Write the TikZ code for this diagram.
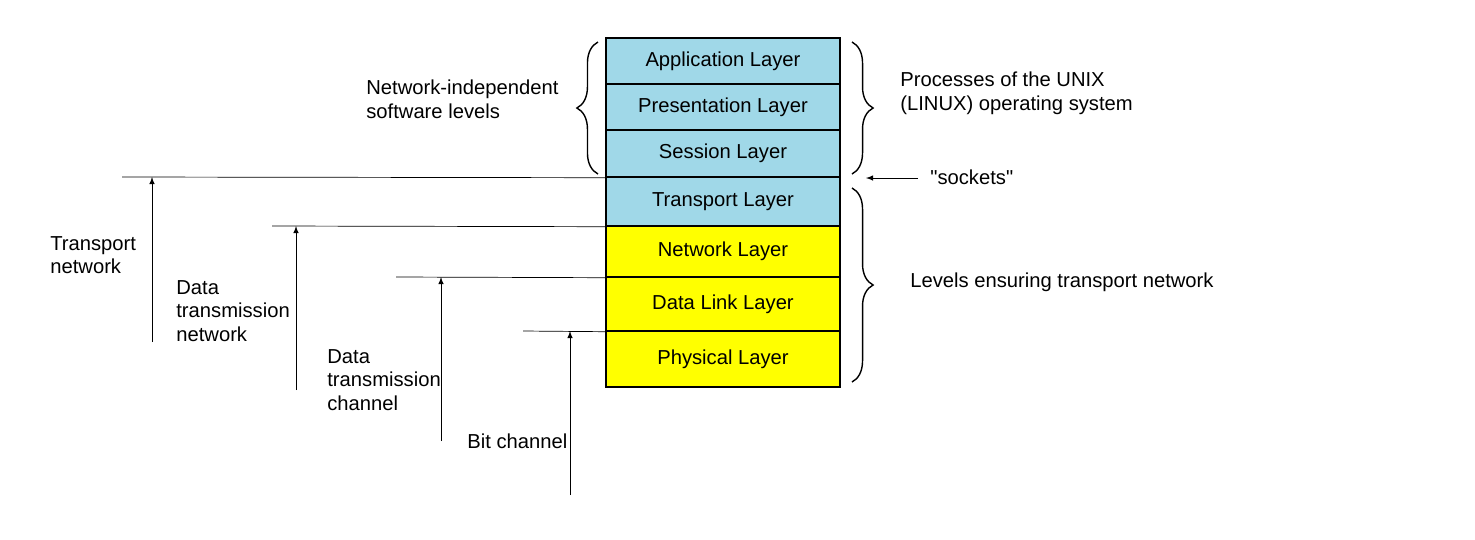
\documentclass[tikz,border=0pt]{standalone}
\usepackage{fontspec}
\setmainfont{Liberation Sans}
\usetikzlibrary{decorations.pathreplacing}
\definecolor{upper}{RGB}{160,216,232}
\definecolor{lower}{RGB}{255,255,0}
\tikzset{
  every node/.style={font=\fontsize{11.5}{13.5}\selectfont},
  layer/.style={draw, thick, minimum width=4.68cm, inner sep=0pt},
  level/.style={thin},
  up/.style={->, >=latex},
  txt/.style={align=left, anchor=west, inner sep=0pt},
  brace/.style={thick, decorate, decoration={brace, amplitude=12pt}}
}
\begin{document}
\begin{tikzpicture}[x=0.02cm, y=-0.02cm]
    \useasboundingbox (0,0) rectangle (1475,539);

    % layers of the stack
    \node[layer, fill=upper, minimum height=0.92cm] (app) at (723,61) {Application Layer};
    \node[layer, fill=upper, minimum height=0.92cm] (pres) at (723,107) {Presentation Layer};
    \node[layer, fill=upper, minimum height=0.94cm] (sess) at (723,153.5) {Session Layer};
    \node[layer, fill=upper, minimum height=0.98cm] (trans) at (723,201.5) {Transport Layer};
    \node[layer, fill=lower, minimum height=1.02cm] (net) at (723,251.5) {Network Layer};
    \node[layer, fill=lower, minimum height=1.08cm] (link) at (723,304) {Data Link Layer};
    \node[layer, fill=lower, minimum height=1.12cm] (phys) at (723,359) {Physical Layer};

    % levels on the left
    \coordinate (l1) at (122,177);
    \coordinate (l2) at (272,226);
    \coordinate (l3) at (396,277);
    \coordinate (l4) at (523,331);
    \draw[level] (l1) -- (sess.south west);
    \draw[level] (l2) -- (trans.south west);
    \draw[level] (l3) -- (net.south west);
    \draw[level] (l4) -- (link.south west);

    \coordinate (a1) at (152,342);
    \coordinate (a2) at (296,390);
    \coordinate (a3) at (441,441);
    \coordinate (a4) at (570,495);
    \draw[up] (a1) -- (a1 |- l1);
    \draw[up] (a2) -- (a2 |- l2);
    \draw[up] (a3) -- (a3 |- l3);
    \draw[up] (a4) -- (a4 |- l4);

    \node[txt] (tn) at (50,255) {Transport\\network};
    \node[txt] (dtn) at (176,311) {Data\\transmission\\network};
    \node[txt] (dtc) at (327,380) {Data\\transmission\\channel};
    \node[txt] (bc) at (467,441) {Bit channel};

    % braces
    \draw[brace] (598,174) -- (598,42);
    \draw[brace] (852,42) -- (852,174);
    \draw[brace] (852,188) -- (852,382);
    \node[txt] (nis) at (366,99) {Network-independent\\software levels};
    \node[txt] (unix) at (900,93) {Processes of the UNIX\\(LINUX) operating system};
    \node[txt] (ens) at (910,282) {Levels ensuring transport network};

    % sockets
    \node[txt] (sock) at (930,177) {\textquotedbl sockets\textquotedbl};
    \coordinate (s0) at (918,178);
    \draw[up] (s0) -- (866,178);
\end{tikzpicture}
\end{document}
